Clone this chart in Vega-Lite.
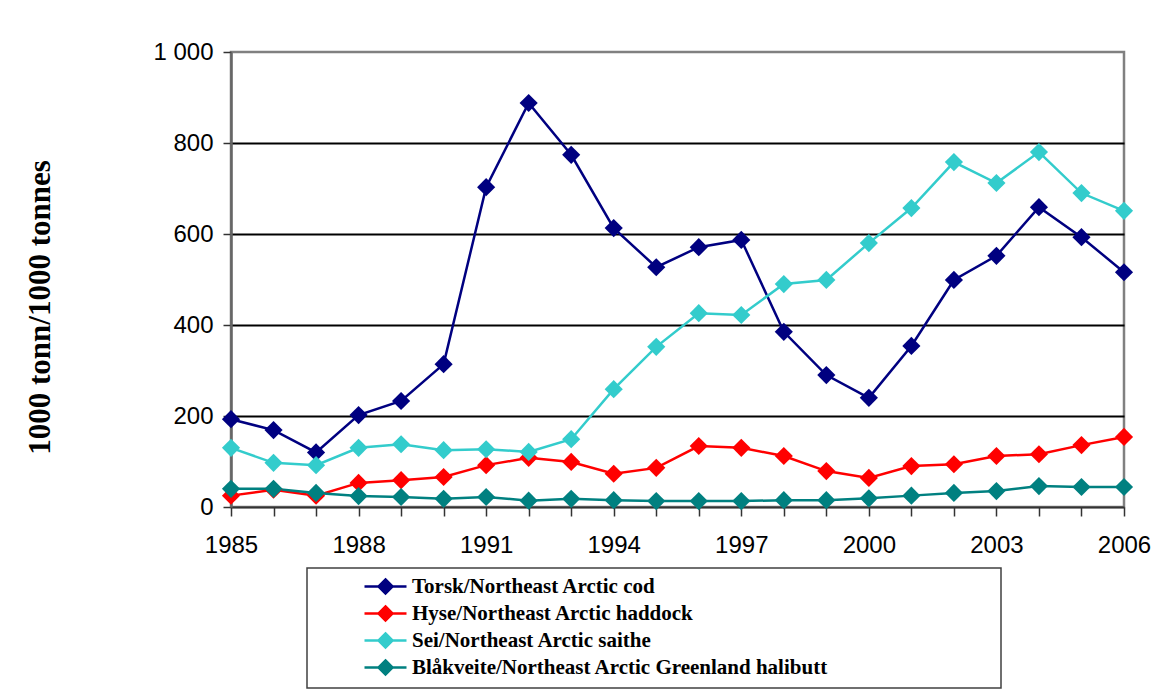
{
  "$schema": "https://vega.github.io/schema/vega-lite/v6.json",
  "width": 893,
  "height": 455,
  "autosize": {"type": "none"},
  "padding": {"left": 231, "top": 52, "right": 36, "bottom": 193},
  "background": "white",
  "config": {"view": {"stroke": "#808080", "strokeWidth": 2.5}, "legend": {"strokeWidth": 1.5}},
  "data": {"values": [
    {"year": 1985, "species": "Torsk/Northeast Arctic cod", "v": 193},
    {"year": 1986, "species": "Torsk/Northeast Arctic cod", "v": 169},
    {"year": 1987, "species": "Torsk/Northeast Arctic cod", "v": 120},
    {"year": 1988, "species": "Torsk/Northeast Arctic cod", "v": 202},
    {"year": 1989, "species": "Torsk/Northeast Arctic cod", "v": 233},
    {"year": 1990, "species": "Torsk/Northeast Arctic cod", "v": 314},
    {"year": 1991, "species": "Torsk/Northeast Arctic cod", "v": 703},
    {"year": 1992, "species": "Torsk/Northeast Arctic cod", "v": 888},
    {"year": 1993, "species": "Torsk/Northeast Arctic cod", "v": 774},
    {"year": 1994, "species": "Torsk/Northeast Arctic cod", "v": 613},
    {"year": 1995, "species": "Torsk/Northeast Arctic cod", "v": 527},
    {"year": 1996, "species": "Torsk/Northeast Arctic cod", "v": 571},
    {"year": 1997, "species": "Torsk/Northeast Arctic cod", "v": 587},
    {"year": 1998, "species": "Torsk/Northeast Arctic cod", "v": 385},
    {"year": 1999, "species": "Torsk/Northeast Arctic cod", "v": 290},
    {"year": 2000, "species": "Torsk/Northeast Arctic cod", "v": 240},
    {"year": 2001, "species": "Torsk/Northeast Arctic cod", "v": 354},
    {"year": 2002, "species": "Torsk/Northeast Arctic cod", "v": 499},
    {"year": 2003, "species": "Torsk/Northeast Arctic cod", "v": 552},
    {"year": 2004, "species": "Torsk/Northeast Arctic cod", "v": 659},
    {"year": 2005, "species": "Torsk/Northeast Arctic cod", "v": 593},
    {"year": 2006, "species": "Torsk/Northeast Arctic cod", "v": 516},
    {"year": 1985, "species": "Hyse/Northeast Arctic haddock", "v": 25},
    {"year": 1986, "species": "Hyse/Northeast Arctic haddock", "v": 38},
    {"year": 1987, "species": "Hyse/Northeast Arctic haddock", "v": 25},
    {"year": 1988, "species": "Hyse/Northeast Arctic haddock", "v": 53},
    {"year": 1989, "species": "Hyse/Northeast Arctic haddock", "v": 59},
    {"year": 1990, "species": "Hyse/Northeast Arctic haddock", "v": 66},
    {"year": 1991, "species": "Hyse/Northeast Arctic haddock", "v": 92},
    {"year": 1992, "species": "Hyse/Northeast Arctic haddock", "v": 108},
    {"year": 1993, "species": "Hyse/Northeast Arctic haddock", "v": 99},
    {"year": 1994, "species": "Hyse/Northeast Arctic haddock", "v": 73},
    {"year": 1995, "species": "Hyse/Northeast Arctic haddock", "v": 86},
    {"year": 1996, "species": "Hyse/Northeast Arctic haddock", "v": 134},
    {"year": 1997, "species": "Hyse/Northeast Arctic haddock", "v": 130},
    {"year": 1998, "species": "Hyse/Northeast Arctic haddock", "v": 112},
    {"year": 1999, "species": "Hyse/Northeast Arctic haddock", "v": 79},
    {"year": 2000, "species": "Hyse/Northeast Arctic haddock", "v": 64},
    {"year": 2001, "species": "Hyse/Northeast Arctic haddock", "v": 90},
    {"year": 2002, "species": "Hyse/Northeast Arctic haddock", "v": 94},
    {"year": 2003, "species": "Hyse/Northeast Arctic haddock", "v": 112},
    {"year": 2004, "species": "Hyse/Northeast Arctic haddock", "v": 116},
    {"year": 2005, "species": "Hyse/Northeast Arctic haddock", "v": 136},
    {"year": 2006, "species": "Hyse/Northeast Arctic haddock", "v": 154},
    {"year": 1985, "species": "Sei/Northeast Arctic saithe", "v": 130},
    {"year": 1986, "species": "Sei/Northeast Arctic saithe", "v": 97},
    {"year": 1987, "species": "Sei/Northeast Arctic saithe", "v": 92},
    {"year": 1988, "species": "Sei/Northeast Arctic saithe", "v": 130},
    {"year": 1989, "species": "Sei/Northeast Arctic saithe", "v": 138},
    {"year": 1990, "species": "Sei/Northeast Arctic saithe", "v": 125},
    {"year": 1991, "species": "Sei/Northeast Arctic saithe", "v": 127},
    {"year": 1992, "species": "Sei/Northeast Arctic saithe", "v": 121},
    {"year": 1993, "species": "Sei/Northeast Arctic saithe", "v": 149},
    {"year": 1994, "species": "Sei/Northeast Arctic saithe", "v": 259},
    {"year": 1995, "species": "Sei/Northeast Arctic saithe", "v": 352},
    {"year": 1996, "species": "Sei/Northeast Arctic saithe", "v": 426},
    {"year": 1997, "species": "Sei/Northeast Arctic saithe", "v": 422},
    {"year": 1998, "species": "Sei/Northeast Arctic saithe", "v": 490},
    {"year": 1999, "species": "Sei/Northeast Arctic saithe", "v": 499},
    {"year": 2000, "species": "Sei/Northeast Arctic saithe", "v": 580},
    {"year": 2001, "species": "Sei/Northeast Arctic saithe", "v": 657},
    {"year": 2002, "species": "Sei/Northeast Arctic saithe", "v": 758},
    {"year": 2003, "species": "Sei/Northeast Arctic saithe", "v": 712},
    {"year": 2004, "species": "Sei/Northeast Arctic saithe", "v": 780},
    {"year": 2005, "species": "Sei/Northeast Arctic saithe", "v": 690},
    {"year": 2006, "species": "Sei/Northeast Arctic saithe", "v": 651},
    {"year": 1985, "species": "Blåkveite/Northeast Arctic Greenland halibutt", "v": 40},
    {"year": 1986, "species": "Blåkveite/Northeast Arctic Greenland halibutt", "v": 40},
    {"year": 1987, "species": "Blåkveite/Northeast Arctic Greenland halibutt", "v": 31},
    {"year": 1988, "species": "Blåkveite/Northeast Arctic Greenland halibutt", "v": 24},
    {"year": 1989, "species": "Blåkveite/Northeast Arctic Greenland halibutt", "v": 22},
    {"year": 1990, "species": "Blåkveite/Northeast Arctic Greenland halibutt", "v": 18},
    {"year": 1991, "species": "Blåkveite/Northeast Arctic Greenland halibutt", "v": 22},
    {"year": 1992, "species": "Blåkveite/Northeast Arctic Greenland halibutt", "v": 14},
    {"year": 1993, "species": "Blåkveite/Northeast Arctic Greenland halibutt", "v": 18},
    {"year": 1994, "species": "Blåkveite/Northeast Arctic Greenland halibutt", "v": 15},
    {"year": 1995, "species": "Blåkveite/Northeast Arctic Greenland halibutt", "v": 13},
    {"year": 1996, "species": "Blåkveite/Northeast Arctic Greenland halibutt", "v": 13},
    {"year": 1997, "species": "Blåkveite/Northeast Arctic Greenland halibutt", "v": 13},
    {"year": 1998, "species": "Blåkveite/Northeast Arctic Greenland halibutt", "v": 15},
    {"year": 1999, "species": "Blåkveite/Northeast Arctic Greenland halibutt", "v": 15},
    {"year": 2000, "species": "Blåkveite/Northeast Arctic Greenland halibutt", "v": 19},
    {"year": 2001, "species": "Blåkveite/Northeast Arctic Greenland halibutt", "v": 25},
    {"year": 2002, "species": "Blåkveite/Northeast Arctic Greenland halibutt", "v": 31},
    {"year": 2003, "species": "Blåkveite/Northeast Arctic Greenland halibutt", "v": 35},
    {"year": 2004, "species": "Blåkveite/Northeast Arctic Greenland halibutt", "v": 46},
    {"year": 2005, "species": "Blåkveite/Northeast Arctic Greenland halibutt", "v": 44},
    {"year": 2006, "species": "Blåkveite/Northeast Arctic Greenland halibutt", "v": 44}
  ]},
  "encoding": {
    "x": {
      "field": "year", "type": "quantitative",
      "scale": {"domain": [1985, 2006], "nice": false, "zero": false},
      "axis": {
        "title": null,
        "values": [1985,1986,1987,1988,1989,1990,1991,1992,1993,1994,1995,1996,1997,1998,1999,2000,2001,2002,2003,2004,2005,2006],
        "format": "d",
        "labelExpr": "(datum.value - 1985) % 3 == 0 ? datum.label : ''",
        "labelFont": "Liberation Sans", "labelFontSize": 24, "labelColor": "black",
        "labelPadding": 17, "labelFlush": false, "labelOverlap": false,
        "tickSize": 9, "tickColor": "#333333", "tickWidth": 1.5,
        "domainColor": "#333333", "domainWidth": 2,
        "grid": false
      }
    },
    "y": {
      "field": "v", "type": "quantitative",
      "scale": {"domain": [0, 1000], "nice": false},
      "axis": {
        "title": "1000 tonn/1000 tonnes",
        "titleFont": "Liberation Serif", "titleFontWeight": "bold", "titleFontSize": 31, "titleColor": "black",
        "titleAngle": 270, "titleX": -191, "titleY": 255, "titleAlign": "center", "titleBaseline": "middle",
        "values": [0, 200, 400, 600, 800, 1000],
        "labelExpr": "datum.value == 1000 ? '1 000' : datum.label",
        "labelFont": "Liberation Sans", "labelFontSize": 24, "labelColor": "black",
        "labelPadding": 10,
        "tickSize": 8, "tickColor": "#333333", "tickWidth": 1.5,
        "domainColor": "#666666", "domainWidth": 2.5,
        "grid": true,
        "gridColor": {"condition": {"test": "datum.value == 0 || datum.value == 1000", "value": "transparent"}, "value": "black"},
        "gridWidth": 2
      }
    },
    "color": {
      "field": "species", "type": "nominal",
      "scale": {
        "domain": ["Torsk/Northeast Arctic cod", "Hyse/Northeast Arctic haddock", "Sei/Northeast Arctic saithe", "Blåkveite/Northeast Arctic Greenland halibutt"],
        "range": ["#000080", "#FF0000", "#33CCCC", "#008080"]
      },
      "legend": {
        "title": "\u00a0",
        "titleOrient": "right",
        "titlePadding": 165,
        "titleFontSize": 2,
        "orient": "none", "legendX": 76, "legendY": 516,
        "symbolType": "M-3,0L3,0M0,-1L1,0L0,1L-1,0Z",
        "symbolSize": 196, "symbolStrokeWidth": 2.5,
        "symbolOffset": 60,
        "labelOffset": 16,
        "labelFont": "Liberation Serif", "labelFontWeight": "bold", "labelFontSize": 21, "labelColor": "black",
        "labelLimit": 1000,
        "rowPadding": 2, "padding": 8,
        "strokeColor": "#404040"
      }
    }
  },
  "layer": [
    {"mark": {"type": "line", "strokeWidth": 2.5}},
    {"mark": {"type": "point", "shape": "diamond", "filled": true, "size": 330, "opacity": 1, "strokeWidth": 0}}
  ]
}
